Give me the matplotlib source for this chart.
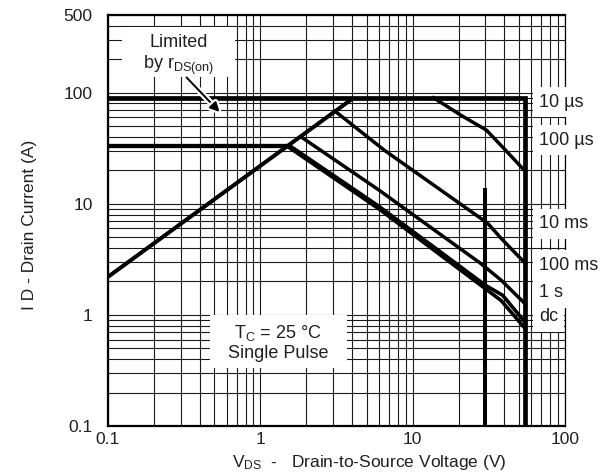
import matplotlib
matplotlib.use("Agg")
import matplotlib.pyplot as plt
import matplotlib.patheffects as pe
from matplotlib.patches import Rectangle
from matplotlib.ticker import FixedLocator, NullFormatter

plt.rcParams["font.family"] = ["Liberation Sans", "DejaVu Sans"]
plt.rcParams["mathtext.fontset"] = "custom"
plt.rcParams["mathtext.rm"] = "Liberation Sans"
plt.rcParams["mathtext.it"] = "Liberation Sans:italic"
plt.rcParams["mathtext.bf"] = "Liberation Sans:bold"

TEXT = "#231f20"

# ---- safe operating area data (V_DS in volts, I_D in amps) ----
# on-resistance limit
rds_v = [0.1, 4.1]
rds_i = [2.2, 90]
# pulsed drain current limit, then breakdown voltage limit
idm_v = [0.1, 55, 55]
idm_i = [90, 90, 0.1]
# continuous drain current limit
idc_v = [0.1, 1.5]
idc_i = [33, 33]
# 30 V marker
mark_v = [30, 30]
mark_i = [14, 0.1]

us100_v = [13.7, 21, 30.5, 42, 55]
us100_i = [90, 62, 46, 29, 19.5]
ms10_v = [3.1, 6.5, 31, 38, 55]
ms10_i = [68, 30.4, 6.7, 4.9, 2.9]
ms100_v = [1.85, 6.0, 28, 38, 55]
ms100_i = [40, 13.3, 2.9, 2.06, 1.25]
s1_v = [1.55, 6.0, 30, 39, 55]
s1_i = [33.5, 9.5, 1.85, 1.5, 0.85]
dc_v = [1.5, 6.0, 30, 38, 55]
dc_i = [33, 9.0, 1.72, 1.35, 0.75]

curve_labels = ["10 µs", "100 µs", "10 ms", "100 ms", "1 s", "dc"]
curve_label_i = [82, 37.4, 6.6, 2.8, 1.58, 0.96]

x_ticks = [0.1, 1, 10, 100]
x_ticklabels = ["0.1", "1", "10", "100"]
y_ticks = [0.1, 1, 10, 100, 500]
y_ticklabels = ["0.1", "1", "10", "100", "500"]

fig = plt.figure(figsize=(6.09, 4.76), dpi=100)
ax = fig.add_axes([108 / 609, 1 - 426 / 476, 457 / 609, 411 / 476])
ax.set_xscale("log")
ax.set_yscale("log")
ax.set_xlim(0.1, 100)
ax.set_ylim(0.1, 500)

# grid: decades plus 2..9 subdivisions
minor_x = [m * 10.0 ** e for e in range(-1, 2) for m in range(2, 10)]
minor_y = [m * 10.0 ** e for e in range(-1, 3) for m in range(2, 10) if m * 10.0 ** e < 500]
ax.xaxis.set_major_locator(FixedLocator(x_ticks))
ax.yaxis.set_major_locator(FixedLocator(y_ticks))
ax.xaxis.set_minor_locator(FixedLocator(minor_x))
ax.yaxis.set_minor_locator(FixedLocator(minor_y))
ax.xaxis.set_minor_formatter(NullFormatter())
ax.yaxis.set_minor_formatter(NullFormatter())
ax.set_xticklabels(x_ticklabels)
ax.set_yticklabels(y_ticklabels)
ax.set_axisbelow(True)
ax.grid(which="both", color="#1a1a1a", lw=0.8)
ax.tick_params(which="both", length=0, labelsize=12.5, colors=TEXT)
ax.tick_params(axis="x", pad=4)
ax.tick_params(axis="y", pad=11)
for side in ["left", "bottom", "top"]:
    ax.spines[side].set_linewidth(1.6)
ax.spines["right"].set_linewidth(0.9)

K = "black"
ax.plot(rds_v, rds_i, color=K, lw=2.9, solid_capstyle="butt")
ax.plot(idm_v, idm_i, color=K, lw=3.4, solid_joinstyle="miter")
ax.plot(idc_v, idc_i, color=K, lw=3.1, solid_capstyle="butt")
ax.plot(mark_v, mark_i, color=K, lw=2.9, solid_capstyle="butt")
ax.plot(us100_v, us100_i, color=K, lw=2.5)
ax.plot(ms10_v, ms10_i, color=K, lw=2.5)
ax.plot(ms100_v, ms100_i, color=K, lw=2.5)
ax.plot(s1_v, s1_i, color=K, lw=2.6)
ax.plot(dc_v, dc_i, color=K, lw=2.6)

# white band behind the curve labels, then the labels
for txt, yi in zip(curve_labels, curve_label_i):
    ax.text(67.5, yi, txt, fontsize=13, color=TEXT, ha="left", va="center",
            zorder=6,
            bbox=dict(facecolor="white", edgecolor="none", boxstyle="square,pad=0.35"))

# "Limited by rDS(on)" note with arrow
ax.add_patch(Rectangle((0.031, 0.849), 0.247, 0.122, transform=ax.transAxes,
                       facecolor="white", edgecolor="none", zorder=3))
ax.text(0.154, 0.934, "Limited", transform=ax.transAxes, ha="center", va="center",
        fontsize=13, color=TEXT, zorder=4)
ax.text(0.154, 0.878, r"by r$_{\mathrm{DS(on)}}$", transform=ax.transAxes,
        ha="center", va="center", fontsize=13, color=TEXT, zorder=4)
ax.annotate("", xy=(0.54, 67), xytext=(0.328, 137),
            arrowprops=dict(arrowstyle="-|>", color="black", lw=1.4,
                            mutation_scale=14, shrinkA=0, shrinkB=0,
                            path_effects=[pe.withStroke(linewidth=4.5, foreground="white")]),
            zorder=5)

# test condition note
ax.add_patch(Rectangle((0.223, 0.141), 0.30, 0.129, transform=ax.transAxes,
                       facecolor="white", edgecolor="none", zorder=3))
ax.text(0.372, 0.226, r"T$_{\mathrm{C}}$ = 25 °C", transform=ax.transAxes,
        ha="center", va="center", fontsize=13, color=TEXT, zorder=4)
ax.text(0.372, 0.177, "Single Pulse", transform=ax.transAxes,
        ha="center", va="center", fontsize=13, color=TEXT, zorder=4)

fig.text(369 / 609, 1 - 462 / 476,
         r"V$_{\mathrm{DS}}$  -   Drain-to-Source Voltage (V)",
         ha="center", va="center", fontsize=12.5, color=TEXT)
fig.text(30 / 609, 1 - 225 / 476, "I D - Drain Current (A)", rotation=90,
         ha="center", va="center", fontsize=12.5, color=TEXT)

fig.savefig("out.png", dpi=100)
